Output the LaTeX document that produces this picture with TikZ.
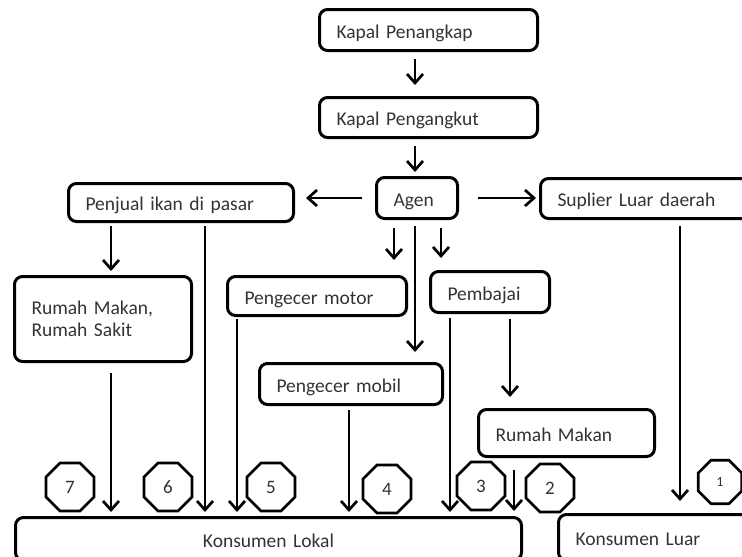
\documentclass[tikz,border=0pt]{standalone}
\usepackage{fontspec}
\setmainfont{Carlito}
\usetikzlibrary{arrows.meta, shapes.geometric}

\tikzset{
	box/.style={draw, line width=3pt, rounded corners=8pt, inner xsep=17pt, inner ysep=0pt, align=left, text=black!80, font=\fontsize{19.5}{22}\selectfont},
	oneline/.style={text height=18pt, text depth=2pt},
	octa/.style={draw, line width=2.7pt, regular polygon, regular polygon sides=8, minimum size=52pt, inner sep=0pt, text=black!80, font=\fontsize{19}{22}\selectfont},
	flow/.style={line width=2.7pt, -{Straight Barb[length=9pt, width=16pt]}}
}

\begin{document}
\begin{tikzpicture}[x=1pt, y=-1pt]
	\useasboundingbox (0,0) rectangle (742,557);
	% boxes
	\node [box, oneline, text width=184pt, minimum height=41pt] (penangkap) at (428.5,30) {Kapal Penangkap};
	\node [box, oneline, text width=184pt, minimum height=40pt] (pengangkut) at (428.5,117.5) {Kapal Pengangkut};
	\node [box, oneline, text width=47pt, minimum height=41pt] (agen) at (417,198) {Agen};
	\node [box, oneline, text width=191pt, minimum height=38pt] (penjual) at (181,202.5) {Penjual ikan di pasar};
	\node [box, oneline, text width=176pt, minimum height=40pt] (suplier) at (645.5,198.5) {Suplier Luar daerah};
	\node [box, text width=143pt, minimum height=85pt] (rmrs) at (103,319) {Rumah Makan,\\Rumah Sakit};
	\node [box, oneline, text width=145pt, minimum height=39pt] (motor) at (317,296) {Pengecer motor};
	\node [box, oneline, text width=85pt, minimum height=41pt] (pembajai) at (490,292) {Pembajai};
	\node [box, oneline, text width=149pt, minimum height=41pt] (mobil) at (351,384) {Pengecer mobil};
	\node [box, oneline, text width=142pt, minimum height=47pt] (rmakan) at (566.5,433) {Rumah Makan};
	\node [box, oneline, align=center, text width=472pt, minimum height=43pt] (lokal) at (268.5,539) {Konsumen Lokal};
	\node [box, oneline, text width=158pt, minimum height=46pt] (luar) at (654.5,537.5) {Konsumen Luar};
	% numbers
	\node [octa] (n7) at (70,487) {7};
	\node [octa] (n6) at (168,487) {6};
	\node [octa] (n5) at (271,487) {5};
	\node [octa] (n4) at (387,489) {4};
	\node [octa] (n3) at (481,486) {3};
	\node [octa] (n2) at (550,488) {2};
	\node [octa, minimum size=47pt, font=\fontsize{14}{16}\selectfont] (n1) at (720,482) {1};
	% arrows
	\draw [flow, shorten <=7pt, shorten >=11pt] (415,0 |- penangkap.south) -- (415,0 |- pengangkut.north);
	\draw [flow, shorten <=7pt, shorten >=4pt] (415,0 |- pengangkut.south) -- (415,0 |- agen.north);
	\draw [flow, shorten <=13pt, shorten >=11pt] (agen.west) -- (penjual.east |- agen.west);
	\draw [flow, shorten <=19pt, shorten >=3pt] (agen.east) -- (suplier.west |- agen.east);
	\draw [flow, shorten <=8pt, shorten >=15pt] (394,0 |- agen.south) -- (394,0 |- motor.north);
	\draw [flow, shorten <=8pt, shorten >=12pt] (441,0 |- agen.south) -- (441,0 |- pembajai.north);
	\draw [flow, shorten <=6pt, shorten >=10pt] (415,0 |- agen.south) -- (415,0 |- mobil.north);
	\draw [flow, shorten <=3pt, shorten >=4pt] (111,0 |- penjual.south) -- (111,0 |- rmrs.north);
	\draw [flow, shorten <=3pt, shorten >=4pt] (205,0 |- penjual.south) -- (205,0 |- lokal.north);
	\draw [flow, shorten <=10pt, shorten >=4pt] (111,0 |- rmrs.south) -- (111,0 |- lokal.north);
	\draw [flow, shorten <=2pt, shorten >=4pt] (237,0 |- motor.south) -- (237,0 |- lokal.north);
	\draw [flow, shorten <=4pt, shorten >=4pt] (349,0 |- mobil.south) -- (349,0 |- lokal.north);
	\draw [flow, shorten <=4pt, shorten >=4pt] (450,0 |- pembajai.south) -- (450,0 |- lokal.north);
	\draw [flow, shorten <=5pt, shorten >=11pt] (510,0 |- pembajai.south) -- (510,0 |- rmakan.north);
	\draw [flow, shorten <=12pt, shorten >=5pt] (514,0 |- rmakan.south) -- (514,0 |- lokal.north);
	\draw [flow, shorten <=6pt, shorten >=12pt] (680,0 |- suplier.south) -- (680,0 |- luar.north);
\end{tikzpicture}
\end{document}
